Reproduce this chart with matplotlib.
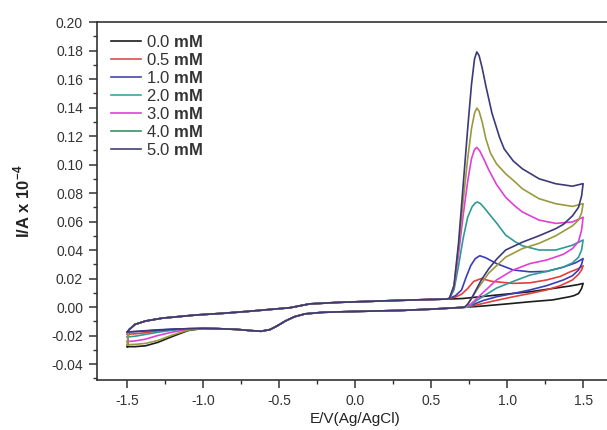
import matplotlib
matplotlib.use("Agg")
import matplotlib.pyplot as plt
from matplotlib.lines import Line2D
from matplotlib.ticker import MultipleLocator

plt.rcParams['font.family'] = ['Liberation Sans', 'DejaVu Sans']
plt.rcParams['mathtext.fontset'] = 'custom'
plt.rcParams['mathtext.rm'] = 'Liberation Sans'
plt.rcParams['mathtext.bf'] = 'Liberation Sans:bold'

# shared baseline, forward scan (-1.5 -> 0.6)
e_fwd_base = [-1.49, -1.45, -1.38, -1.27, -1.05, -0.87, -0.70, -0.43, -0.30, -0.10, 0.10, 0.30, 0.50, 0.60]
i_fwd_base = [-0.016, -0.0122, -0.0098, -0.0078, -0.0056, -0.0044, -0.0030, -0.0005, 0.0022, 0.0033, 0.0040, 0.0047, 0.0053, 0.0056]

# shared baseline, reverse scan (0.7 -> -1.0), reduction dip near -0.62
e_rev_base = [0.70, 0.50, 0.30, 0.00, -0.21, -0.33, -0.40, -0.46, -0.51, -0.56, -0.62, -0.68, -0.78, -0.90, -1.00]
i_rev_base = [-0.0003, -0.0015, -0.0024, -0.0031, -0.0037, -0.0048, -0.0068, -0.0098, -0.0130, -0.0158, -0.0170, -0.0166, -0.0157, -0.0152, -0.0150]

e_tail = [-1.10, -1.20, -1.30, -1.38, -1.45, -1.50]

concs = ['0.0', '0.5', '1.0', '2.0', '3.0', '4.0', '5.0']
line_colors = ['#1c1c1c', '#e0403c', '#3c3cb8', '#2e9a98', '#e040d4', '#9a9a3c', '#3a3a78']
legend_colors = ['#1c1c1c', '#d85050', '#4444b4', '#40a4a0', '#e040e0', '#3c9060', '#40407c']

# 0.0 mM
i_tail_00 = [-0.0165, -0.0205, -0.0248, -0.0272, -0.0278, -0.0278]
e_fwd_00 = [0.62, 0.71, 0.93, 1.15, 1.41, 1.47, 1.50]
i_fwd_00 = [0.0056, 0.0060, 0.0084, 0.0107, 0.0147, 0.0158, 0.0166]
e_rev_00 = [1.50, 1.49, 1.47, 1.44, 1.41, 1.30, 1.15, 1.00, 0.85, 0.75]
i_rev_00 = [0.0166, 0.0130, 0.0095, 0.0080, 0.0072, 0.0050, 0.0037, 0.0022, 0.0008, 0.0]

# 0.5 mM
i_tail_05 = [-0.0152, -0.0158, -0.0168, -0.0180, -0.0188, -0.0190]
e_fwd_05 = [0.62, 0.66, 0.70, 0.74, 0.78, 0.83, 0.90, 1.04, 1.15, 1.26, 1.35, 1.41, 1.47, 1.50]
i_fwd_05 = [0.0060, 0.0070, 0.0090, 0.0130, 0.0180, 0.0200, 0.0180, 0.0166, 0.0170, 0.0190, 0.0215, 0.0245, 0.0270, 0.0290]
e_rev_05 = [1.50, 1.49, 1.47, 1.43, 1.35, 1.26, 1.15, 1.04, 0.90, 0.80, 0.74]
i_rev_05 = [0.0290, 0.0260, 0.0230, 0.0190, 0.0150, 0.0120, 0.0095, 0.0072, 0.0040, 0.0015, 0.0]

# 1.0 mM
i_tail_10 = [-0.0152, -0.0155, -0.0160, -0.0166, -0.0172, -0.0175]
e_fwd_10 = [0.62, 0.66, 0.70, 0.73, 0.76, 0.79, 0.82, 0.86, 0.93, 1.04, 1.15, 1.26, 1.37, 1.45, 1.50]
i_fwd_10 = [0.0060, 0.0080, 0.0120, 0.0210, 0.0290, 0.0340, 0.0360, 0.0345, 0.0305, 0.0260, 0.0247, 0.0250, 0.0280, 0.0310, 0.0340]
e_rev_10 = [1.50, 1.49, 1.47, 1.43, 1.37, 1.26, 1.15, 1.04, 0.93, 0.84, 0.77, 0.73]
i_rev_10 = [0.0340, 0.0300, 0.0260, 0.0220, 0.0190, 0.0150, 0.0120, 0.0095, 0.0072, 0.0045, 0.0015, 0.0]

# 2.0 mM
i_tail_20 = [-0.0155, -0.0162, -0.0177, -0.0192, -0.0205, -0.0210]
e_fwd_20 = [0.62, 0.65, 0.68, 0.71, 0.74, 0.77, 0.79, 0.805, 0.825, 0.85, 0.88, 0.93, 0.99, 1.05, 1.10, 1.21, 1.32, 1.43, 1.50]
i_fwd_20 = [0.0060, 0.0120, 0.0290, 0.0480, 0.0630, 0.0705, 0.0730, 0.0737, 0.0725, 0.0695, 0.0655, 0.0590, 0.0505, 0.0460, 0.0430, 0.0400, 0.0400, 0.0434, 0.0470]
e_rev_20 = [1.50, 1.49, 1.47, 1.43, 1.37, 1.26, 1.15, 1.04, 0.93, 0.85, 0.79, 0.75]
i_rev_20 = [0.0470, 0.0400, 0.0350, 0.0310, 0.0280, 0.0250, 0.0224, 0.0180, 0.0133, 0.0080, 0.0040, 0.0]

# 3.0 mM
i_tail_30 = [-0.0158, -0.0175, -0.0200, -0.0225, -0.0238, -0.0242]
e_fwd_30 = [0.62, 0.65, 0.68, 0.71, 0.74, 0.765, 0.785, 0.80, 0.82, 0.85, 0.88, 0.93, 0.99, 1.05, 1.10, 1.21, 1.32, 1.43, 1.50]
i_fwd_30 = [0.0060, 0.0140, 0.0370, 0.0640, 0.0880, 0.1040, 0.1105, 0.1120, 0.1095, 0.1030, 0.0960, 0.0860, 0.0770, 0.0710, 0.0667, 0.0610, 0.0587, 0.0597, 0.0630]
e_rev_30 = [1.50, 1.49, 1.47, 1.43, 1.37, 1.26, 1.15, 1.04, 0.93, 0.85, 0.80, 0.76, 0.73]
i_rev_30 = [0.0630, 0.0540, 0.0460, 0.0410, 0.0370, 0.0330, 0.0305, 0.0260, 0.0190, 0.0110, 0.0060, 0.0020, 0.0]

# 4.0 mM
i_tail_40 = [-0.0162, -0.0195, -0.0235, -0.0255, -0.0262, -0.0264]
e_fwd_40 = [0.62, 0.65, 0.68, 0.71, 0.74, 0.765, 0.785, 0.80, 0.815, 0.835, 0.86, 0.89, 0.93, 0.99, 1.05, 1.10, 1.21, 1.32, 1.43, 1.50]
i_fwd_40 = [0.0060, 0.0150, 0.0420, 0.0740, 0.1040, 0.1250, 0.1360, 0.1396, 0.1375, 0.1300, 0.1180, 0.1080, 0.1005, 0.0935, 0.0880, 0.0830, 0.0760, 0.0725, 0.0706, 0.0725]
e_rev_40 = [1.50, 1.49, 1.47, 1.43, 1.32, 1.21, 1.10, 0.99, 0.88, 0.80, 0.76, 0.73]
i_rev_40 = [0.0725, 0.0660, 0.0610, 0.0570, 0.0500, 0.0447, 0.0410, 0.0350, 0.0240, 0.0120, 0.0050, 0.0]

# 5.0 mM
i_tail_50 = [-0.0152, -0.0156, -0.0162, -0.0168, -0.0172, -0.0175]
e_fwd_50 = [0.62, 0.65, 0.68, 0.71, 0.74, 0.765, 0.785, 0.80, 0.815, 0.835, 0.86, 0.90, 0.95, 0.98, 1.04, 1.10, 1.21, 1.32, 1.43, 1.50]
i_fwd_50 = [0.0060, 0.0150, 0.0450, 0.0850, 0.1250, 0.1560, 0.1740, 0.1790, 0.1765, 0.1680, 0.1550, 0.1360, 0.1190, 0.1110, 0.1025, 0.0970, 0.0900, 0.0865, 0.0848, 0.0866]
e_rev_50 = [1.50, 1.49, 1.47, 1.43, 1.37, 1.32, 1.21, 1.10, 0.99, 0.93, 0.88, 0.83, 0.80, 0.77, 0.74, 0.72]
i_rev_50 = [0.0866, 0.0780, 0.0700, 0.0640, 0.0580, 0.0550, 0.0500, 0.0455, 0.0400, 0.0335, 0.0270, 0.0190, 0.0130, 0.0070, 0.0020, 0.0]

curves = [
    (i_tail_00, e_fwd_00, i_fwd_00, e_rev_00, i_rev_00),
    (i_tail_05, e_fwd_05, i_fwd_05, e_rev_05, i_rev_05),
    (i_tail_10, e_fwd_10, i_fwd_10, e_rev_10, i_rev_10),
    (i_tail_20, e_fwd_20, i_fwd_20, e_rev_20, i_rev_20),
    (i_tail_30, e_fwd_30, i_fwd_30, e_rev_30, i_rev_30),
    (i_tail_40, e_fwd_40, i_fwd_40, e_rev_40, i_rev_40),
    (i_tail_50, e_fwd_50, i_fwd_50, e_rev_50, i_rev_50),
]

fig = plt.figure(figsize=(6.07, 4.30), dpi=100)
ax = fig.add_axes([97 / 607, 1 - 380 / 430, (613.5 - 97) / 607, (380 - 22) / 430])

for (it, ef, i_f, er, i_r), col in zip(curves, line_colors):
    e = [-1.5] + e_fwd_base + ef + er + e_rev_base + e_tail
    i = [it[-1]] + i_fwd_base + i_f + i_r + i_rev_base + it
    ax.plot(e, i, color=col, lw=1.2, solid_joinstyle='round')

ax.set_xlim(-1.7, 1.7)
ax.set_ylim(-0.0512, 0.20)
ax.xaxis.set_major_locator(MultipleLocator(0.5))
ax.xaxis.set_minor_locator(MultipleLocator(0.25))
ax.yaxis.set_major_locator(MultipleLocator(0.02))
ax.yaxis.set_minor_locator(MultipleLocator(0.01))
ax.xaxis.set_major_formatter(plt.FuncFormatter(lambda v, p: f'{v:.1f}'))
ax.yaxis.set_major_formatter(plt.FuncFormatter(lambda v, p: f'{v:.2f}'))

for s in ax.spines.values():
    s.set_linewidth(1.2)
    s.set_color('#333333')
ax.tick_params(which='major', direction='out', length=6, width=1.1, color='#333333',
               labelsize=10, labelcolor='#333333', pad=4)
ax.tick_params(which='minor', direction='out', length=3, width=1.0, color='#333333')
ax.tick_params(top=False, right=False, which='both')

ax.set_xlabel('E/V(Ag/AgCl)', fontsize=11, color='#222222', labelpad=3)
ax.set_ylabel(r'I/A x 10$^{\mathbf{-4}}$', fontsize=12, fontweight='bold', color='#222222', labelpad=14)

handles = [Line2D([0], [0], color=c, lw=1.2) for c in legend_colors]
labels = [c + r' $\mathbf{mM}$' for c in concs]
leg = ax.legend(handles, labels, loc='upper left', bbox_to_anchor=(0.015, 0.985), frameon=False,
                fontsize=12, handlelength=1.8, handletextpad=0.25, labelspacing=0.12, borderaxespad=0.0)
for t in leg.get_texts():
    t.set_color('#333333')

fig.savefig('out.png', dpi=100)
